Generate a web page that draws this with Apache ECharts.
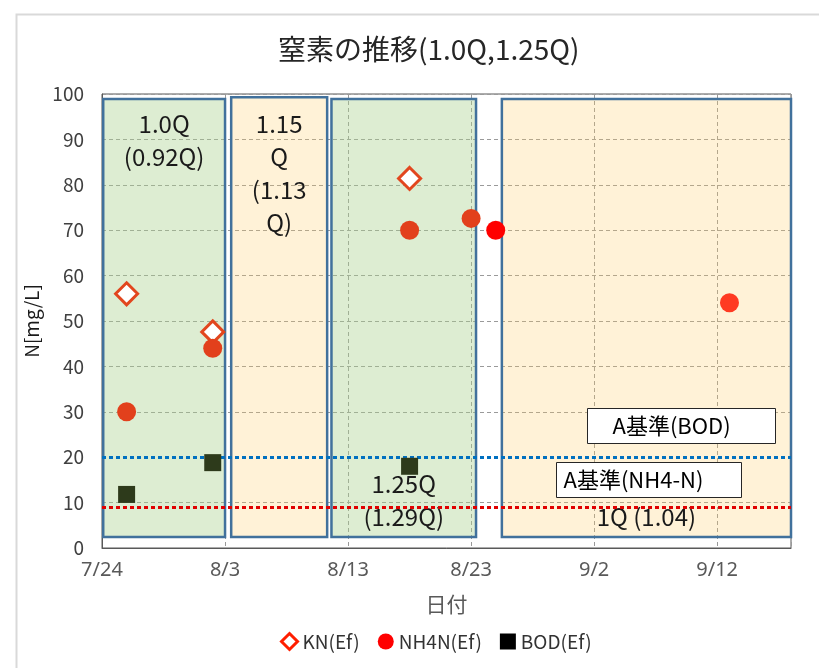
<!DOCTYPE html>
<html>
<head>
<meta charset="utf-8">
<script src="https://cdn.jsdelivr.net/npm/echarts@6/dist/echarts.min.js"></script>
<style>
  html, body { margin: 0; padding: 0; background: #fff; }
  #chart { width: 819px; height: 668px; }
</style>
</head>
<body>
<div id="chart"></div>
<script>
// Sampling dates (M/D) and measured values [mg/L]
const knDates = ['7/26', '8/2', '8/18'];
const knValues = [56, 47.6, 81.4];

const nh4nDates = ['7/26', '8/2', '8/18', '8/23', '8/25', '9/13'];
const nh4nValues = [30, 44, 70, 72.6, 70, 54];

const bodDates = ['7/26', '8/2', '8/18'];
const bodValues = [11.8, 18.8, 18];

// Effluent standards (A基準)
const stdBOD = 20;
const stdNH4N = 9;

const yTicks = [0, 10, 20, 30, 40, 50, 60, 70, 80, 90, 100];

// Operating periods (flow rate) shown as shaded panels
const panelLabels = ['1.0Q\n(0.92Q)', '1.15\nQ\n(1.13\nQ)', '1.25Q\n(1.29Q)', '1Q (1.04)'];

// ---- helpers: dates are placed on a day-count axis starting at 7/24 ----
const ORIGIN = Date.UTC(2000, 6, 24);
const DAY = 86400000;
function dayOf(md) {
  const [m, d] = md.split('/').map(Number);
  return (Date.UTC(2000, m - 1, d) - ORIGIN) / DAY;
}
function mdOf(v) {
  const dt = new Date(ORIGIN + v * DAY);
  return (dt.getUTCMonth() + 1) + '/' + dt.getUTCDate();
}
const pairs = (dates, values) => dates.map((d, i) => [dayOf(d), values[i]]);

// Panel extents on the axes (days from 7/24, mg/L) and styling
const GREEN = 'rgba(169,209,142,0.40)';
const YELLOW = 'rgba(255,205,100,0.26)';
const panelLayout = [
  { x: [0.1, 10.0], y: [2.4, 98.9], fill: GREEN, pos: 'insideTop', dist: 10 },
  { x: [10.5, 18.3], y: [2.4, 99.3], fill: YELLOW, pos: 'insideTop', dist: 11 },
  { x: [18.65, 30.4], y: [2.4, 98.9], fill: GREEN, pos: 'insideBottom', dist: 5 },
  { x: [32.5, 56], y: [2.4, 98.9], fill: YELLOW, pos: 'insideBottom', dist: 5 }
];

// Individual point colours for NH4N
const nh4nColors = ['#E2401C', '#E2401C', '#E2401C', '#E2401C', '#FF0000', '#FF3A22'];

const FONT = '"Noto Sans CJK JP", "Noto Sans", sans-serif';

const chart = echarts.init(document.getElementById('chart'));

// annotation text box (white box with a thin dark border)
function noteBox(left, top, w, h, textX, text) {
  return {
    type: 'group', left: left, top: top, z: 20,
    children: [
      { type: 'rect', z: 20, shape: { width: w, height: h }, style: { fill: '#ffffff', stroke: '#262626', lineWidth: 1 } },
      { type: 'text', z: 21, x: textX, y: h / 2, style: { text: text, fontFamily: FONT, fontSize: 22, fill: '#000000', verticalAlign: 'middle' } }
    ]
  };
}

chart.setOption({
  backgroundColor: '#ffffff',
  animation: false,
  title: {
    text: '窒素の推移(1.0Q,1.25Q)',
    left: 273,
    top: 30,
    textStyle: { fontFamily: FONT, fontSize: 28, fontWeight: 'normal', color: '#262626' }
  },
  grid: {
    left: 102, right: 28, top: 94, bottom: 120,
    show: true, borderColor: '#595959', borderWidth: 1, backgroundColor: 'transparent'
  },
  legend: {
    left: 275,
    top: 627,
    itemWidth: 16,
    itemHeight: 16,
    itemGap: 18,
    textStyle: { fontFamily: FONT, fontSize: 19, color: '#333333' },
    data: [
      { name: 'KN(Ef)', icon: 'diamond', itemStyle: { color: '#ffffff', borderColor: '#FF1E00', borderWidth: 3 } },
      { name: 'NH4N(Ef)', icon: 'circle', itemStyle: { color: '#FF0000' } },
      { name: 'BOD(Ef)', icon: 'rect', itemStyle: { color: '#000000' } }
    ]
  },
  xAxis: {
    type: 'value',
    min: 0,
    max: 56,
    interval: 10,
    name: '日付',
    nameLocation: 'middle',
    nameGap: 46,
    nameTextStyle: { fontFamily: FONT, fontSize: 21, color: '#595959' },
    axisLine: { show: true, lineStyle: { color: '#595959', width: 1 } },
    axisTick: { show: false },
    axisLabel: {
      margin: 12,
      fontFamily: '"Noto Sans", sans-serif',
      fontSize: 20,
      color: '#595959',
      formatter: v => (v % 10 === 0 ? mdOf(v) : '')
    },
    splitLine: { show: true, lineStyle: { color: '#9A9A9A', type: [4, 3], width: 1 } }
  },
  yAxis: {
    type: 'value',
    min: yTicks[0],
    max: yTicks[yTicks.length - 1],
    interval: yTicks[1] - yTicks[0],
    name: 'N[mg/L]',
    nameLocation: 'middle',
    nameGap: 58,
    nameTextStyle: { fontFamily: FONT, fontSize: 19, color: '#1a1a1a' },
    axisLine: { show: true, lineStyle: { color: '#595959', width: 1 } },
    axisTick: { show: false },
    axisLabel: { margin: 18, fontFamily: FONT, fontSize: 19, color: '#404040' },
    splitLine: { show: true, lineStyle: { color: '#9A9A9A', type: [4, 3], width: 1 } }
  },
  series: [
    {
      // shaded operating-period panels
      name: 'periods',
      type: 'scatter',
      data: [],
      z: 1,
      silent: true,
      markArea: {
        silent: true,
        data: panelLayout.map((p, i) => [
          {
            xAxis: p.x[0], yAxis: p.y[0],
            itemStyle: { color: p.fill, borderColor: '#41719C', borderWidth: 2.5 },
            label: {
              show: true, position: p.pos, distance: p.dist,
              formatter: panelLabels[i],
              fontFamily: FONT, fontSize: 24, lineHeight: 33, color: '#1a1a1a', align: 'center'
            }
          },
          { xAxis: p.x[1], yAxis: p.y[1] }
        ])
      }
    },
    {
      // standard lines
      name: 'standards',
      type: 'scatter',
      data: [],
      z: 3,
      silent: true,
      markLine: {
        silent: true,
        symbol: 'none',
        label: { show: false },
        lineStyle: { type: [4, 3], width: 3, cap: 'butt' },
        data: [
          { yAxis: stdBOD, lineStyle: { color: '#0070C0', type: [4, 3], width: 3 } },
          { yAxis: stdNH4N, lineStyle: { color: '#E00000', type: [4, 3], width: 3 } }
        ]
      }
    },
    {
      name: 'KN(Ef)',
      type: 'scatter',
      z: 5,
      symbol: 'diamond',
      symbolSize: 22,
      itemStyle: { color: '#ffffff', borderColor: '#E2461E', borderWidth: 3, opacity: 1 },
      data: pairs(knDates, knValues)
    },
    {
      name: 'NH4N(Ef)',
      type: 'scatter',
      z: 5,
      symbol: 'circle',
      symbolSize: 19,
      itemStyle: { color: '#FF0000', opacity: 1 },
      data: pairs(nh4nDates, nh4nValues).map((v, i) => ({ value: v, itemStyle: { color: nh4nColors[i] } }))
    },
    {
      name: 'BOD(Ef)',
      type: 'scatter',
      z: 5,
      symbol: 'rect',
      symbolSize: 17,
      itemStyle: { color: '#2D3A1B', opacity: 1 },
      data: pairs(bodDates, bodValues)
    }
  ],
  graphic: [
    {
      // chart frame
      type: 'rect', left: 14, top: 12, silent: true, z: 0,
      shape: { width: 830, height: 680 },
      style: { fill: 'none', stroke: '#D9D9D9', lineWidth: 2 }
    },
    noteBox(587, 408, 188, 35, 25, 'A基準(BOD)'),
    noteBox(556, 462, 185, 35, 7, 'A基準(NH4-N)')
  ]
});
</script>
</body>
</html>
